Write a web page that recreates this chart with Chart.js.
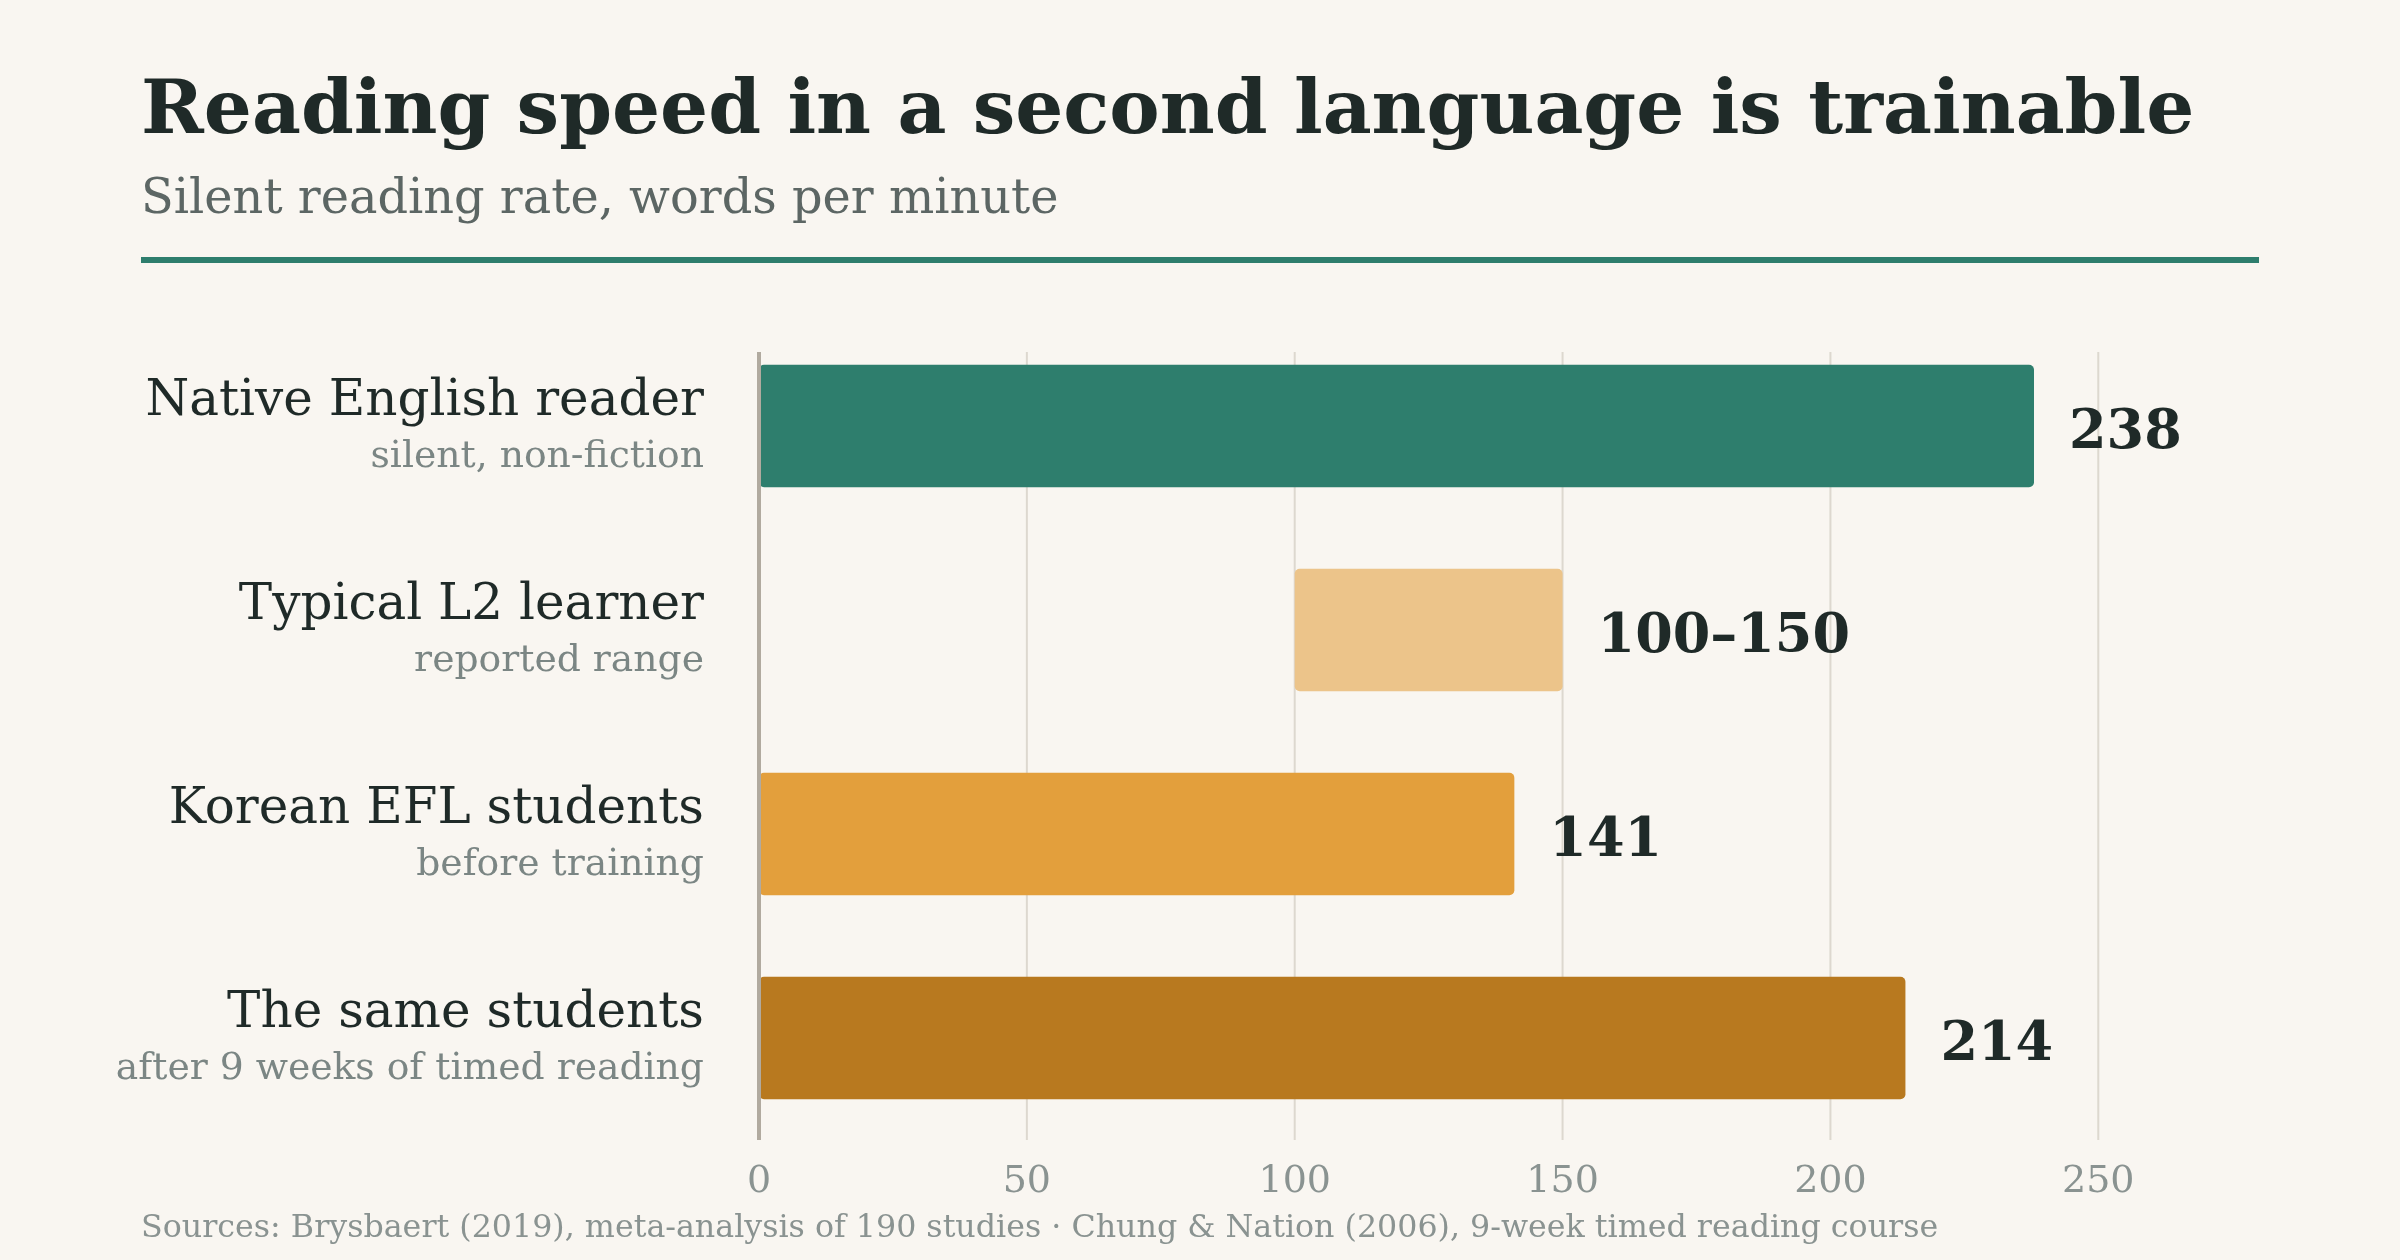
<!DOCTYPE html>
<html>
<head>
<meta charset="utf-8">
<title>Reading speed in a second language is trainable</title>
<script src="https://cdn.jsdelivr.net/npm/chart.js@4/dist/chart.umd.min.js"></script>
<style>
  html, body { margin: 0; padding: 0; background: #f9f6f1; }
  canvas { display: block; }
</style>
</head>
<body>
<canvas id="speedChart" width="2400" height="1260"></canvas>
<script>
// data
const categories = ['Native English reader', 'Typical L2 learner', 'Korean EFL students', 'The same students'];
const notes = ['silent, non-fiction', 'reported range', 'before training', 'after 9 weeks of timed reading'];
const barStart = [0, 100, 0, 0];
const barEnd = [238, 150, 141, 214];
const barColors = ['#2e7e6d', '#ecc48a', '#e39f3c', '#b8791f'];
const tickValues = [0, 50, 100, 150, 200, 250];
const axisMax = 280;

const titleText = 'Reading speed in a second language is trainable';
const subtitleText = 'Silent reading rate, words per minute';
const sourceText = 'Sources: Brysbaert (2019), meta-analysis of 190 studies · Chung & Nation (2006), 9-week timed reading course';

const serif = '"DejaVu Serif", serif';
const ink = '#1f2a28';
const muted = '#7b8684';

// floating bars: [start, end]
const barData = barStart.map((s, i) => [s, barEnd[i]]);

const decor = {
    id: 'decor',
    beforeDraw(chart) {
        const c = chart.ctx;
        const area = chart.chartArea;
        const x = chart.scales.x;
        const y = chart.scales.y;
        c.save();
        c.fillStyle = '#f9f6f1';
        c.fillRect(0, 0, chart.width, chart.height);

        // heading
        c.textAlign = 'left';
        c.textBaseline = 'alphabetic';
        c.fillStyle = ink;
        c.font = 'bold 75.6px ' + serif;
        c.fillText(titleText, 141, 133);
        c.fillStyle = '#5c6664';
        c.font = '47.8px ' + serif;
        c.fillText(subtitleText, 141, 213);
        c.fillStyle = '#2e7e6d';
        c.fillRect(141, 257, area.right - 141, 6);

        // vertical grid lines (start a bit below the plot top)
        c.strokeStyle = '#ddd8cf';
        c.lineWidth = 2;
        tickValues.forEach(v => {
            const px = x.getPixelForValue(v);
            c.beginPath();
            c.moveTo(px, area.top + 28);
            c.lineTo(px, area.bottom);
            c.stroke();
        });

        // category labels, two lines each
        c.textAlign = 'right';
        categories.forEach((name, i) => {
            const cy = y.getPixelForValue(i);
            c.fillStyle = ink;
            c.font = '50px ' + serif;
            c.fillText(name, 704, cy - 11);
            c.fillStyle = muted;
            c.font = '37.7px ' + serif;
            c.fillText(notes[i], 704, cy + 41);
        });

        // source line
        c.textAlign = 'left';
        c.fillStyle = '#8a9391';
        c.font = '31.7px ' + serif;
        c.fillText(sourceText, 141, 1237);
        c.restore();
    },
    afterDatasetsDraw(chart) {
        const c = chart.ctx;
        const area = chart.chartArea;
        const x = chart.scales.x;
        const y = chart.scales.y;
        c.save();
        // zero axis line
        c.strokeStyle = '#b1aa9f';
        c.lineWidth = 4;
        const x0 = x.getPixelForValue(0);
        c.beginPath();
        c.moveTo(x0, area.top + 28);
        c.lineTo(x0, area.bottom);
        c.stroke();

        // value labels
        c.fillStyle = ink;
        c.font = 'bold 54px ' + serif;
        c.textAlign = 'left';
        c.textBaseline = 'alphabetic';
        barEnd.forEach((v, i) => {
            const txt = barStart[i] > 0 ? barStart[i] + '–' + v : String(v);
            c.fillText(txt, x.getPixelForValue(v) + 35, y.getPixelForValue(i) + 22);
        });
        c.restore();
    }
};

const ctx = document.getElementById('speedChart').getContext('2d');
const speedChart = new Chart(ctx, {
    type: 'bar',
    data: {
        labels: categories,
        datasets: [{
            data: barData,
            backgroundColor: barColors,
            borderRadius: 5,
            borderSkipped: false,
            barPercentage: 0.6,
            categoryPercentage: 1.0
        }]
    },
    options: {
        indexAxis: 'y',
        responsive: false,
        devicePixelRatio: 1,
        animation: false,
        layout: {
            padding: { top: 324, left: 141, right: 141, bottom: 50 }
        },
        plugins: {
            legend: { display: false },
            tooltip: { enabled: false }
        },
        scales: {
            x: {
                type: 'linear',
                position: 'bottom',
                min: 0,
                max: axisMax,
                afterBuildTicks: scale => {
                    scale.ticks = tickValues.map(v => ({ value: v }));
                },
                afterFit: scale => { scale.height = 70; },
                grid: { display: false, drawTicks: false },
                border: { display: false },
                ticks: {
                    padding: 19,
                    color: '#8a9391',
                    font: { family: serif, size: 38 }
                }
            },
            y: {
                type: 'category',
                afterFit: scale => { scale.width = 618; },
                grid: { display: false, drawTicks: false },
                border: { display: false },
                ticks: { display: false }
            }
        }
    },
    plugins: [decor]
});
</script>
</body>
</html>
